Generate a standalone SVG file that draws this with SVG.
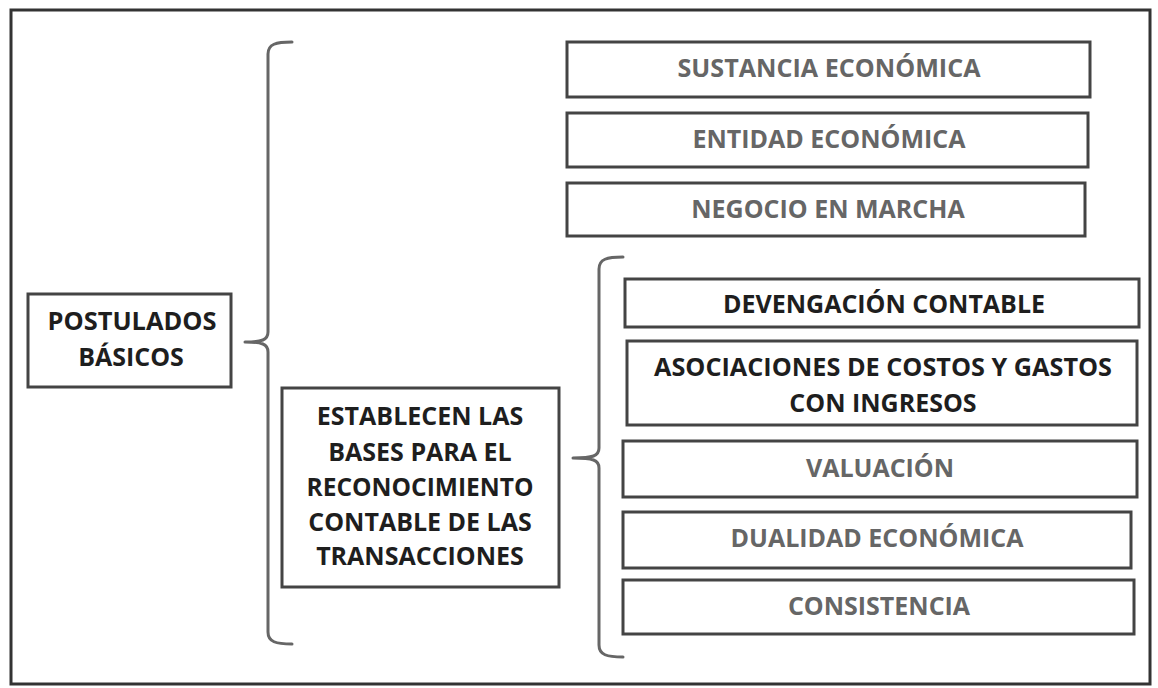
<svg xmlns="http://www.w3.org/2000/svg" width="1158" height="688" viewBox="0 0 1158 688">
<style>
  .frame{fill:none;stroke:#333;stroke-width:3}
  .box{fill:#fff;stroke:#444;stroke-width:3}
  .brace{fill:none;stroke:#666;stroke-width:3;stroke-linecap:round;stroke-linejoin:round}
  text{font-family:"Open Sans","DejaVu Sans",sans-serif;font-weight:700;text-anchor:middle;font-size:25px}
  .dk{fill:#1e1e1e}
  .gr{fill:#666}
</style>
<rect width="1158" height="688" fill="#fff"/>
<rect class="frame" x="11" y="10" width="1139" height="674"/>
<g id="connectors">
  <path class="brace" d="M292,42 C276,42 268,44 268,54 L268,332 C268,340 262,342 245,342 C262,342 268,344 268,352 L268,632 C268,642 276,644 292,644"/>
  <path class="brace" d="M623,257 C607,257 599,259 599,269 L599,448 C599,456 593,458 573,458 C593,458 599,460 599,468 L599,645 C599,655 607,657 623,657"/>
</g>
<g id="postulados">
  <rect class="box" x="28" y="294" width="203" height="93"/>
  <text class="dk" x="132" y="330" textLength="169" lengthAdjust="spacingAndGlyphs">POSTULADOS</text>
  <text class="dk" x="131" y="366">BÁSICOS</text>
</g>
<g id="establecen">
  <rect class="box" x="282" y="388" width="277" height="199"/>
  <text class="dk" x="420" y="425">ESTABLECEN LAS</text>
  <text class="dk" x="420" y="461">BASES PARA EL</text>
  <text class="dk" x="420" y="496" textLength="227" lengthAdjust="spacingAndGlyphs">RECONOCIMIENTO</text>
  <text class="dk" x="420" y="531">CONTABLE DE LAS</text>
  <text class="dk" x="420" y="565">TRANSACCIONES</text>
</g>
<g id="sustancia">
  <rect class="box" x="567" y="42" width="523" height="55"/>
  <text class="gr" x="829" y="77" textLength="303" lengthAdjust="spacingAndGlyphs">SUSTANCIA ECONÓMICA</text>
</g>
<g id="entidad">
  <rect class="box" x="567" y="113" width="521" height="54"/>
  <text class="gr" x="829" y="148">ENTIDAD ECONÓMICA</text>
</g>
<g id="negocio">
  <rect class="box" x="567" y="183" width="518" height="53"/>
  <text class="gr" x="828" y="218">NEGOCIO EN MARCHA</text>
</g>
<g id="devengacion">
  <rect class="box" x="625" y="279" width="514" height="48"/>
  <text class="dk" x="884" y="313" textLength="322" lengthAdjust="spacingAndGlyphs">DEVENGACIÓN CONTABLE</text>
</g>
<g id="asociaciones">
  <rect class="box" x="627" y="341" width="510" height="84"/>
  <text class="dk" x="883" y="376" textLength="458" lengthAdjust="spacingAndGlyphs">ASOCIACIONES DE COSTOS Y GASTOS</text>
  <text class="dk" x="883" y="412">CON INGRESOS</text>
</g>
<g id="valuacion">
  <rect class="box" x="623" y="441" width="514" height="56"/>
  <text class="gr" x="880" y="477">VALUACIÓN</text>
</g>
<g id="dualidad">
  <rect class="box" x="623" y="512" width="508" height="56"/>
  <text class="gr" x="877" y="547">DUALIDAD ECONÓMICA</text>
</g>
<g id="consistencia">
  <rect class="box" x="623" y="580" width="511" height="54"/>
  <text class="gr" x="879" y="615">CONSISTENCIA</text>
</g>
</svg>
